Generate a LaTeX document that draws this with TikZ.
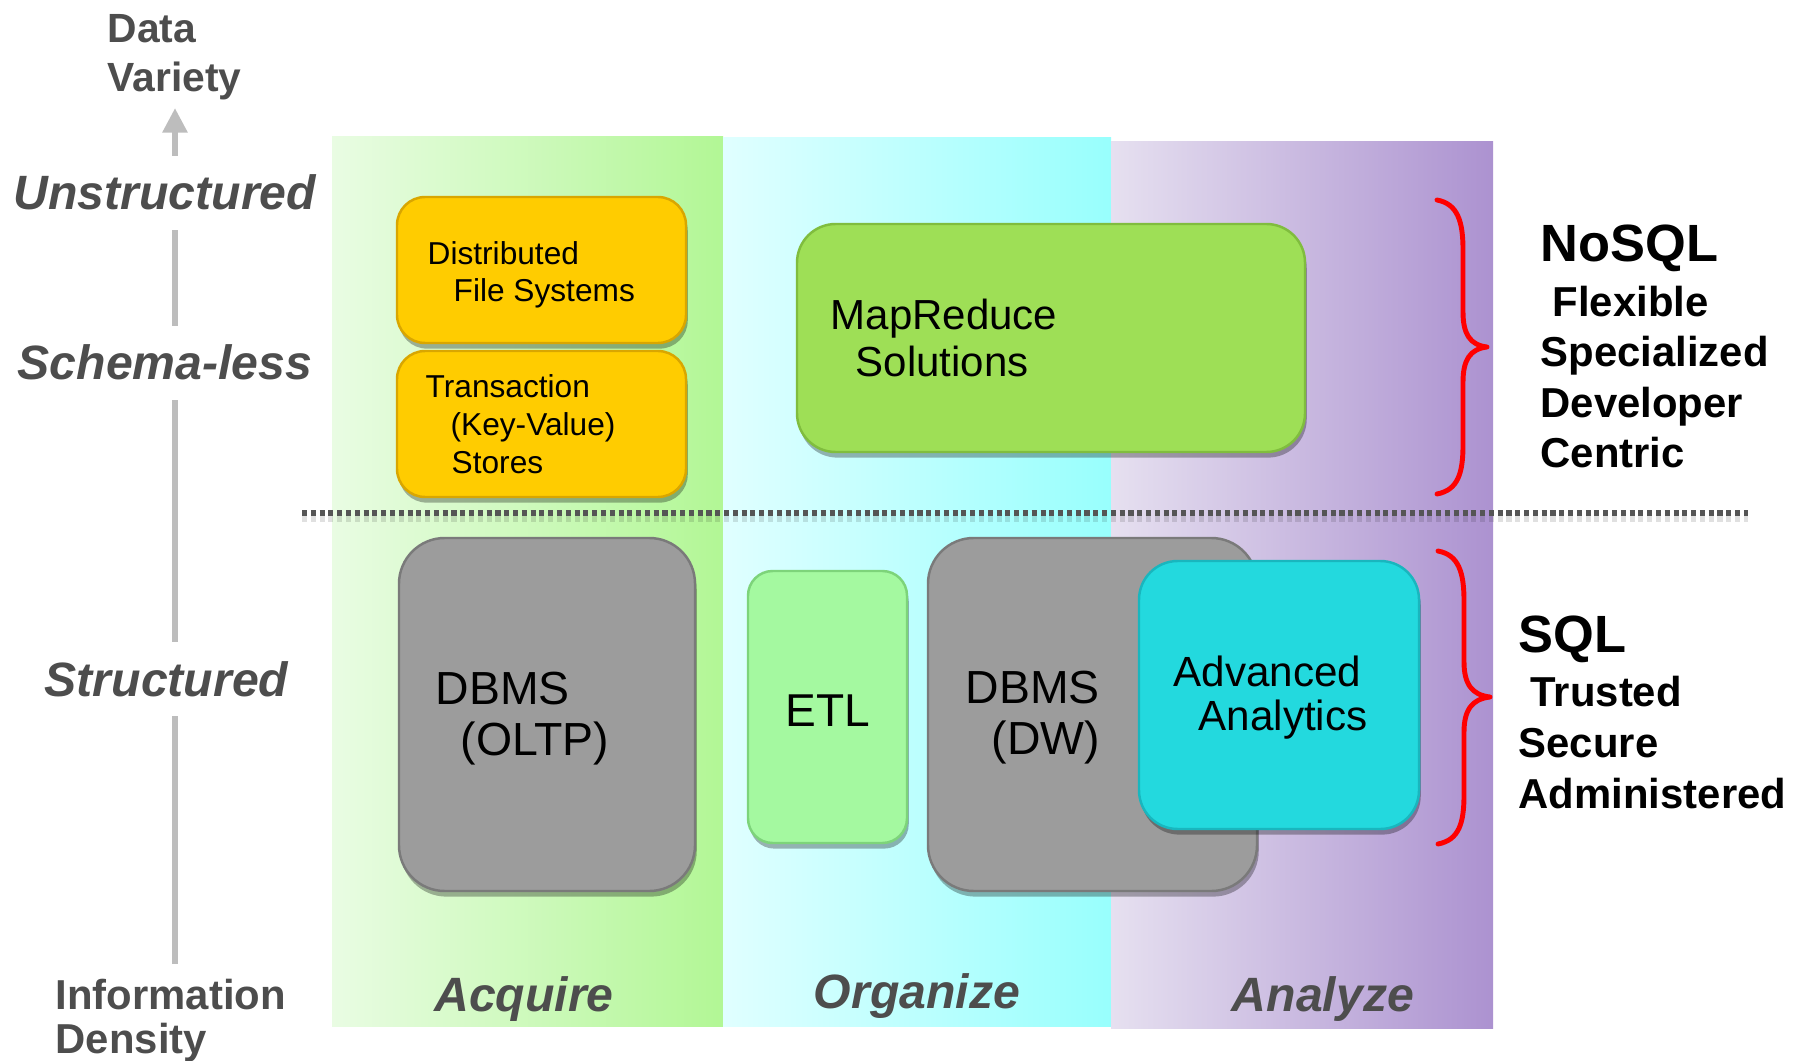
\documentclass[tikz,border=0pt]{standalone}
\usepackage{fontspec}
\setmainfont{Liberation Sans}
\usetikzlibrary{arrows.meta,shadows,fit}
\definecolor{lblgray}{HTML}{4D4D4D}
\definecolor{axisgray}{HTML}{BDBDBD}
\definecolor{dotgray}{HTML}{555555}
\definecolor{greenL}{HTML}{E9FCE3}
\definecolor{greenR}{HTML}{B2F795}
\definecolor{cyanL}{HTML}{E0FFFF}
\definecolor{cyanR}{HTML}{98FFFD}
\definecolor{purL}{HTML}{E6E0F0}
\definecolor{purR}{HTML}{AC92D0}
\definecolor{ygold}{HTML}{FFCC00}
\definecolor{ygoldb}{HTML}{D9A600}
\definecolor{mrgreen}{HTML}{9EDF56}
\definecolor{mrgreenb}{HTML}{80BD3E}
\definecolor{dbgray}{HTML}{9C9C9C}
\definecolor{dbgrayb}{HTML}{7A7A7A}
\definecolor{etlgreen}{HTML}{A4F9A0}
\definecolor{etlgreenb}{HTML}{7DD47A}
\definecolor{turq}{HTML}{23D9DE}
\definecolor{turqb}{HTML}{19B6BE}
\definecolor{bracered}{HTML}{FF0000}
\newcommand{\pxfont}[2]{\fontsize{#1}{#2}\selectfont}
\tikzset{
  txt/.style={inner sep=0pt, anchor=base west, align=left},
  axislbl/.style={inner xsep=0pt, inner ysep=5.5pt, anchor=base west, fill=white, text=lblgray,
    font=\pxfont{13.7pt}{16pt}\bfseries\itshape},
  collbl/.style={inner sep=0pt, anchor=base, text=lblgray, font=\pxfont{13.7pt}{16pt}\bfseries\itshape},
  shad/.style={drop shadow={shadow xshift=0.5pt, shadow yshift=-1.6pt, opacity=0.3, fill=black}},
  boxbase/.style={inner sep=0pt, line width=0.7pt, shad},
  ybox/.style={boxbase, draw=ygoldb, fill=ygold, rounded corners=8pt},
  mrbox/.style={boxbase, draw=mrgreenb, fill=mrgreen, rounded corners=11pt},
  dbbox/.style={boxbase, draw=dbgrayb, fill=dbgray, rounded corners=13pt},
  etlbox/.style={boxbase, draw=etlgreenb, fill=etlgreen, rounded corners=7pt},
  aabox/.style={boxbase, draw=turqb, fill=turq, rounded corners=11pt},
  axisline/.style={draw=axisgray, line width=1.7pt, -{Triangle[width=6.8pt,length=7pt]}},
  divider/.style={draw=dotgray, line width=1.45pt, dash pattern=on 1.45pt off 1.05pt},
  bracestyle/.style={draw=bracered, line width=1.4pt, line cap=round, line join=round},
  sidehead/.style={inner sep=0pt, anchor=base west, font=\pxfont{14.9pt}{17pt}\bfseries},
  sidebody/.style={inner sep=0pt, anchor=base west, align=left, font=\pxfont{11.9pt}{14.4pt}\bfseries}
}
\begin{document}
\begin{tikzpicture}[x=0.01cm,y=-0.01cm]
\useasboundingbox (0,0) rectangle (1800,1061);
% columns
\path[left color=greenL, right color=greenR] (332,137) rectangle (723,1026);
\path[left color=cyanL, right color=cyanR] (723,138) rectangle (1111,1026);
\path[left color=purL, right color=purR] (1111,142) rectangle (1493,1028);
% dotted divider
\coordinate (dl) at (302,513);
\coordinate (dr) at (1748,513);
\draw[draw=black, opacity=0.12, line width=2.2pt, dash pattern=on 1.45pt off 1.05pt] ([yshift=-1.6pt]dl) -- ([yshift=-1.6pt]dr);
\draw[divider] (dl) -- (dr);
% axis
\coordinate (axbot) at (175,964);
\coordinate (axtop) at (175,108);
\draw[axisline] (axbot) -- (axtop);
\node[txt, text=lblgray, font=\pxfont{11.6pt}{14.2pt}\bfseries] (dv) at (107,92) {Data\\Variety};
\node[axislbl] (unstr) at (13,210) {Unstructured};
\node[axislbl] (schem) at (17,380) {Schema-less};
\node[axislbl] (struc) at (44,696) {Structured};
\node[txt, text=lblgray, font=\pxfont{11.9pt}{12.4pt}\bfseries] (infd) at (55,1053) {Information\\Density};
% upper boxes
\node[ybox, fit={(397,197)(686,343)}] (dfs) {};
\node[txt, font=\pxfont{9pt}{10.8pt}] (dfst) at (427,302) {Distributed\\\hspace*{7.4pt}File Systems};
\node[ybox, fit={(397,351)(686,497)}] (kvs) {};
\node[txt, font=\pxfont{9pt}{10.8pt}] (kvst) at (425,473) {Transaction\\\hspace*{7.1pt}(Key-Value)\\\hspace*{7.4pt}Stores};
\node[mrbox, fit={(797,224)(1305,452)}] (mr) {};
\node[txt, font=\pxfont{11.95pt}{13.4pt}] (mrt) at (830,377) {MapReduce\\\hspace*{7.1pt}Solutions};
% lower boxes
\node[dbbox, fit={(399,538)(695,891)}] (oltp) {};
\node[txt, font=\pxfont{13.2pt}{14.5pt}] (oltpt) at (435,755) {DBMS\\\hspace*{7.1pt}(OLTP)};
\node[etlbox, fit={(748,571)(907,843)}] (etl) {};
\node[inner sep=0pt, anchor=base, font=\pxfont{13.1pt}{15pt}] (etlt) at (828,726) {ETL};
\node[dbbox, fit={(928,538)(1257,891)}] (dw) {};
\node[txt, font=\pxfont{13.2pt}{14.5pt}] (dwt) at (965,754) {DBMS\\\hspace*{7.4pt}(DW)};
\node[aabox, fit={(1139,561)(1419,829)}] (aa) {};
\node[txt, font=\pxfont{12pt}{12.5pt}] (aat) at (1173,730) {Advanced\\\hspace*{7.1pt}Analytics};
% column labels
\node[collbl] (acq) at (524,1011) {Acquire};
\node[collbl] (org) at (917,1008) {Organize};
\node[collbl] (ana) at (1323,1011) {Analyze};
% braces
\draw[bracestyle] (1437,200) .. controls (1458,204) and (1463,222) .. (1463,250)
  -- (1463,312) .. controls (1463,334) and (1470,345) .. (1487,347)
  .. controls (1470,349) and (1463,360) .. (1463,382)
  -- (1463,445) .. controls (1463,473) and (1458,490) .. (1437,494);
\draw[bracestyle] (1438,551) .. controls (1459,555) and (1464,573) .. (1464,601)
  -- (1464,662) .. controls (1464,684) and (1472,695) .. (1490,697)
  .. controls (1472,699) and (1464,710) .. (1464,732)
  -- (1464,795) .. controls (1464,823) and (1459,840) .. (1438,844);
% side texts
\node[sidehead] (nosql) at (1540,262) {NoSQL};
\node[sidebody] (nosqlt) at (1540,468) {\hspace*{3.4pt}Flexible\\Specialized\\Developer\\Centric};
\node[sidehead] (sql) at (1518,652) {SQL};
\node[sidebody] (sqlt) at (1518,808) {\hspace*{3.4pt}Trusted\\Secure\\Administered};
\end{tikzpicture}
\end{document}
